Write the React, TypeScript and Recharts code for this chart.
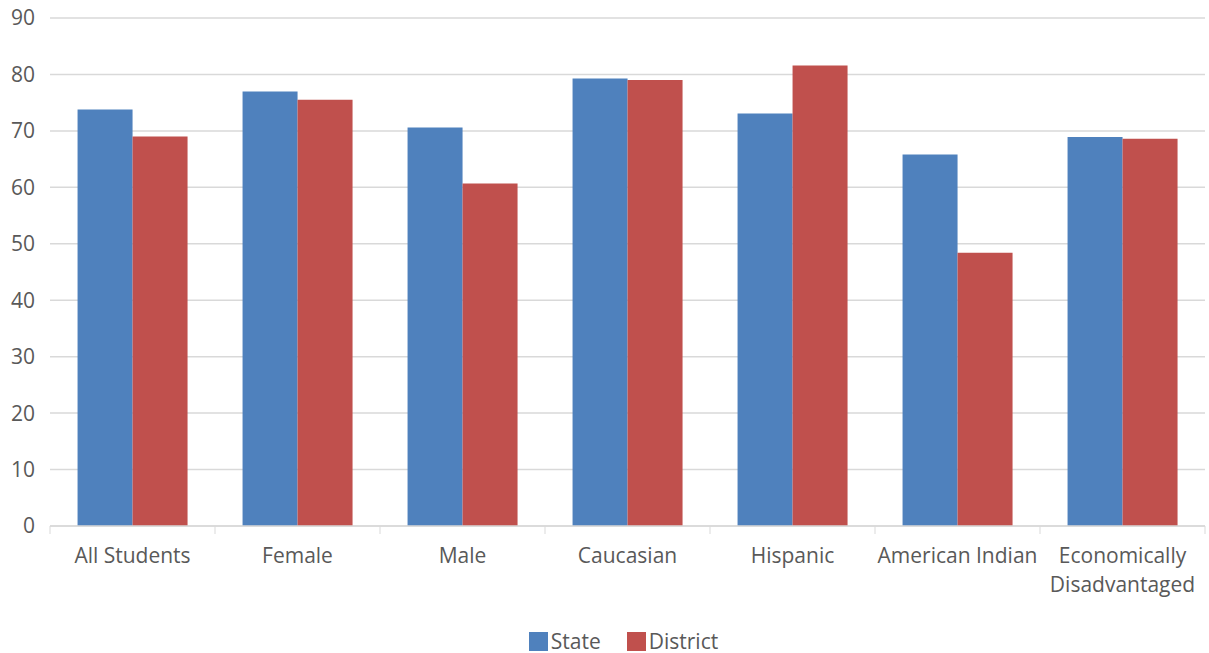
import React from "react";
import {
  BarChart,
  Bar,
  XAxis,
  YAxis,
  CartesianGrid,
  Legend,
  Text,
} from "recharts";

const categories = [
  "All Students",
  "Female",
  "Male",
  "Caucasian",
  "Hispanic",
  "American Indian",
  "Economically Disadvantaged",
];
const seriesNames = ["State", "District"];
const stateValues = [73.8, 77.0, 70.6, 79.3, 73.1, 65.8, 68.9];
const districtValues = [69.0, 75.5, 60.7, 79.0, 81.6, 48.4, 68.6];
const yTicks = [0, 10, 20, 30, 40, 50, 60, 70, 80, 90];

const FONT = "'Open Sans', 'Noto Sans', sans-serif";
const TEXT_COLOR = "#595959";
const GRID_COLOR = "#D9D9D9";

const data = categories.map((name, i) => ({
  name,
  State: stateValues[i],
  District: districtValues[i],
}));

// category label + tick marks drawn at the band edges
const CategoryTick = (props: any) => {
  const { x, y, payload, index, visibleTicksCount, width } = props;
  const half =
    payload?.offset || (width && visibleTicksCount ? width / visibleTicksCount / 2 : 82.5);
  const isLast = index === visibleTicksCount - 1;
  return (
    <g>
      <line x1={x - half} y1={y} x2={x - half} y2={y + 8} stroke={GRID_COLOR} />
      {isLast && (
        <line x1={x + half} y1={y} x2={x + half} y2={y + 8} stroke={GRID_COLOR} />
      )}
      <Text
        x={x}
        y={y + 37}
        width={half * 2 - 6}
        textAnchor="middle"
        verticalAnchor="middle"
        lineHeight={29}
        fill={TEXT_COLOR}
        style={{ fontFamily: FONT, fontSize: 21 }}
      >
        {payload.value}
      </Text>
    </g>
  );
};

// legend centred over the plot area rather than the whole chart
const LegendContent = (props: any) => {
  const { payload } = props;
  return (
    <div
      style={{
        display: "flex",
        justifyContent: "center",
        alignItems: "center",
        gap: 26,
        fontFamily: FONT,
        fontSize: 21,
        color: TEXT_COLOR,
        height: 30,
        paddingTop: 3,
        paddingLeft: 42,
      }}
    >
      {(payload || []).map((entry: any) => (
        <div key={entry.value} style={{ display: "flex", alignItems: "center", gap: 3 }}>
          <div style={{ width: 19, height: 19, background: entry.color }} />
          <span>{entry.value}</span>
        </div>
      ))}
    </div>
  );
};

export default function App() {
  return (
    <div style={{ position: "absolute", top: 0, left: 0, background: "#fff" }}>
      <BarChart
        width={1209}
        height={653}
        data={data}
        margin={{ top: 18, right: 4, left: 0, bottom: 0 }}
        barCategoryGap="16.7%"
        barGap={0}
      >
        <CartesianGrid vertical={false} stroke={GRID_COLOR} strokeWidth={1.5} />
        <XAxis
          dataKey="name"
          height={97}
          axisLine={{ stroke: GRID_COLOR, strokeWidth: 1.5 }}
          tickLine={false}
          tickSize={0}
          tickMargin={0}
          interval={0}
          tick={<CategoryTick />}
        />
        <YAxis
          width={50}
          domain={[0, 90]}
          ticks={yTicks}
          interval={0}
          axisLine={false}
          tickLine={false}
          tickSize={0}
          tickMargin={15}
          tick={{ fill: TEXT_COLOR, fontSize: 21, fontFamily: FONT }}
        />
        <Legend
          verticalAlign="bottom"
          height={30}
          itemSorter={(item: any) => seriesNames.indexOf(item.value)}
          content={<LegendContent />}
        />
        <Bar dataKey="State" fill="#4F81BD" isAnimationActive={false} />
        <Bar dataKey="District" fill="#C0504D" isAnimationActive={false} />
      </BarChart>
    </div>
  );
}
